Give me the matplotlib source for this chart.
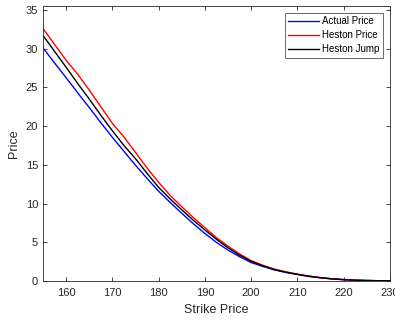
import matplotlib
matplotlib.use("Agg")
import matplotlib.pyplot as plt

plt.rcParams['font.family'] = ['Liberation Sans', 'DejaVu Sans']

# strike grid and prices
strikes = [155, 157.5, 160, 162.5, 165, 167.5, 170, 172.5, 175, 177.5, 180,
           182.5, 185, 187.5, 190, 192.5, 195, 197.5, 200, 202.5, 205,
           207.5, 210, 212.5, 215, 217.5, 220, 222.5, 225, 227.5, 230]

actual_price = [30.1, 28.15, 26.25, 24.3, 22.4, 20.45, 18.55, 16.75, 14.95, 13.25, 11.6,
                10.15, 8.75, 7.4, 6.15, 5.0, 4.0, 3.15, 2.4, 1.9, 1.45,
                1.12, 0.85, 0.6, 0.42, 0.28, 0.18, 0.11, 0.07, 0.05, 0.03]

heston_price = [32.6, 30.55, 28.5, 26.7, 24.65, 22.5, 20.35, 18.6, 16.6, 14.6, 12.75,
                11.05, 9.6, 8.2, 6.9, 5.6, 4.5, 3.5, 2.65, 2.05, 1.55,
                1.2, 0.9, 0.65, 0.45, 0.3, 0.2, 0.12, 0.08, 0.05, 0.03]

heston_jump = [31.7, 29.65, 27.6, 25.5, 23.5, 21.4, 19.4, 17.5, 15.8, 13.9, 12.1,
               10.6, 9.2, 7.85, 6.6, 5.4, 4.3, 3.35, 2.55, 1.98, 1.5,
               1.15, 0.88, 0.63, 0.44, 0.29, 0.19, 0.12, 0.08, 0.05, 0.03]

fig = plt.figure(figsize=(3.95, 3.22), dpi=100)
ax = fig.add_axes([0.109, 0.127, 0.878, 0.854])

ax.plot(strikes, actual_price, color="#0000ff", lw=1.0, label="Actual Price")
ax.plot(strikes, heston_price, color="#ff0000", lw=1.0, label="Heston Price")
ax.plot(strikes, heston_jump, color="black", lw=1.0, label="Heston Jump")

ax.set_xlim(155, 230)
ax.set_ylim(0, 35.5)
ax.set_xticks(range(160, 231, 10))
ax.set_yticks(range(0, 36, 5))

gray = "#262626"
ax.tick_params(direction="in", length=3, width=0.6, top=True, right=True,
               labelsize=8, colors=gray)
ax.tick_params(axis="x", pad=5)
for sp in ax.spines.values():
    sp.set_color(gray)
    sp.set_linewidth(0.6)

ax.set_xlabel("Strike Price", fontsize=9, color=gray, labelpad=4)
ax.set_ylabel("Price", fontsize=9, color=gray, labelpad=4)

leg = ax.legend(loc="upper right", fontsize=7, frameon=True, fancybox=False,
                borderpad=0.35, handlelength=3.2, handletextpad=0.3,
                labelspacing=0.4, borderaxespad=0.7)
leg.get_frame().set_edgecolor(gray)
leg.get_frame().set_linewidth(0.6)

fig.savefig("out.png", dpi=100)
